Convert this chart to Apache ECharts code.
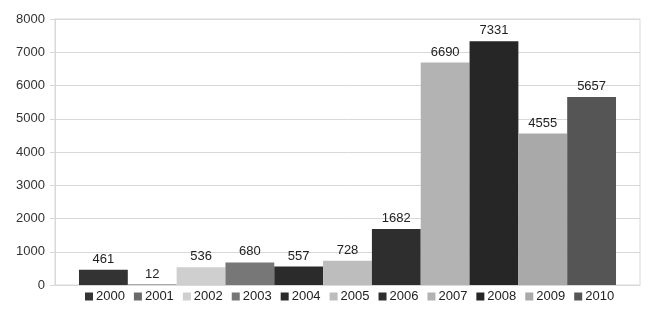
<!DOCTYPE html>
<html>
<head>
<meta charset="utf-8">
<style>
html,body{margin:0;padding:0;background:#fff;}
#chart{width:652px;height:323px;}
</style>
<script src="https://cdn.jsdelivr.net/npm/echarts@6/dist/echarts.min.js"></script>
</head>
<body>
<div id="chart"></div>
<script>
var years = ['2000','2001','2002','2003','2004','2005','2006','2007','2008','2009','2010'];
var values = [461, 12, 536, 680, 557, 728, 1682, 6690, 7331, 4555, 5657];
var colors = ['#333333','#6a6a6a','#cfcfcf','#777777','#2b2b2b','#bdbdbd','#2e2e2e','#b3b3b3','#262626','#a9a9a9','#555555'];
var yTicks = [0,1000,2000,3000,4000,5000,6000,7000,8000];

var chart = echarts.init(document.getElementById('chart'));
var series = years.map(function(y, i){
  return {
    name: y,
    type: 'bar',
    data: [values[i]],
    barGap: '0%',
    barCategoryGap: '8.2%',
    itemStyle: {color: colors[i]},
    label: {show: true, position: 'top', distance: 4, color: '#222', fontSize: 13, fontFamily: 'Liberation Sans, Arial, sans-serif'}
  };
});
chart.setOption({
  animation: false,
  color: colors,
  grid: {left: 55, right: 12, top: 19, bottom: 38, show: true, borderColor: '#d8d8d8', borderWidth: 1},
  legend: {
    data: years,
    top: 285,
    left: 80,
    itemWidth: 8, itemHeight: 8, itemGap: 9,
    icon: 'rect',
    textStyle: {color: '#222', fontSize: 13, fontFamily: 'Liberation Sans, Arial, sans-serif', padding: [0,0,0,-2]}
  },
  xAxis: {
    type: 'category',
    data: [''],
    axisLine: {show: true, lineStyle: {color: '#d8d8d8'}},
    axisTick: {show: false},
    axisLabel: {show: false}
  },
  yAxis: {
    type: 'value',
    min: yTicks[0], max: yTicks[yTicks.length-1], interval: 1000,
    axisLine: {show: true, lineStyle: {color: '#d8d8d8'}},
    axisTick: {show: true, length: 5, lineStyle: {color: '#d8d8d8'}},
    splitLine: {show: true, lineStyle: {color: '#d8d8d8'}},
    axisLabel: {color: '#333', fontSize: 13, margin: 10, fontFamily: 'Liberation Sans, Arial, sans-serif', formatter: function(v){ return String(v); }}
  },
  series: series
});
</script>
</body>
</html>
